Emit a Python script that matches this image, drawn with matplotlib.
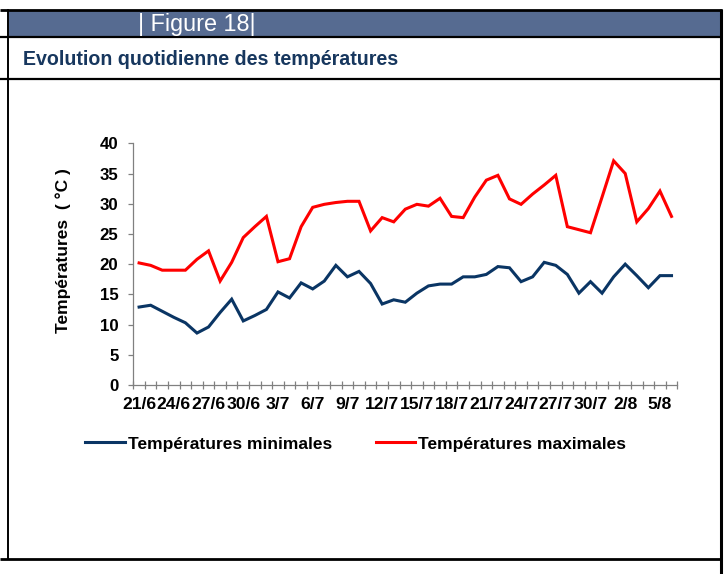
import matplotlib
matplotlib.use("Agg")
import matplotlib.pyplot as plt
from matplotlib.lines import Line2D
from matplotlib.patches import Rectangle
import numpy as np
import pandas as pd

plt.rcParams['font.family'] = ['Liberation Sans', 'DejaVu Sans']

# ---- data ----
dates = [f"{d.day}/{d.month}" for d in pd.date_range("2000-06-21", "2000-08-06")]
t_min = [12.9, 13.2, 12.2, 11.2, 10.3, 8.6, 9.6, 12.0, 14.2, 10.6, 11.5, 12.5,
         15.4, 14.4, 16.9, 15.9, 17.2, 19.8, 17.9, 18.8, 16.8, 13.4, 14.1, 13.7,
         15.2, 16.4, 16.7, 16.7, 17.9, 17.9, 18.3, 19.6, 19.4, 17.1, 17.9, 20.3,
         19.8, 18.3, 15.2, 17.1, 15.2, 17.9, 20.0, 18.1, 16.1, 18.1, 18.1]
t_max = [20.2, 19.8, 19.0, 19.0, 19.0, 20.8, 22.2, 17.2, 20.3, 24.4, 26.2, 27.9,
         20.4, 20.9, 26.2, 29.4, 29.9, 30.2, 30.4, 30.4, 25.5, 27.7, 27.0, 29.1,
         29.9, 29.6, 30.9, 27.9, 27.7, 31.1, 33.9, 34.7, 30.8, 29.9, 31.6, 33.1,
         34.7, 26.2, 25.7, 25.2, 31.1, 37.1, 35.0, 27.0, 29.2, 32.1, 27.9]
series_names = ["Températures minimales", "Températures maximales"]
y_ticks = [0, 5, 10, 15, 20, 25, 30, 35, 40]
label_step = 3

W, H = 724, 574
fig = plt.figure(figsize=(W / 100, H / 100), dpi=100)
fig.patch.set_facecolor('white')


def fx(x):
    return x / W


def fy(y):
    return 1 - y / H


# ---- table frame ----
fig.add_artist(Rectangle((fx(9), fy(36.5)), fx(711), 25.5 / H,
                         transform=fig.transFigure, facecolor='#566B91',
                         edgecolor='none', zorder=0))


def hline(y, x0, x1, lw):
    fig.add_artist(Line2D([fx(x0), fx(x1)], [fy(y), fy(y)], transform=fig.transFigure,
                          color='black', lw=lw, solid_capstyle='butt'))


def vline(x, y0, y1, lw):
    fig.add_artist(Line2D([fx(x), fx(x)], [fy(y0), fy(y1)], transform=fig.transFigure,
                          color='black', lw=lw, solid_capstyle='butt'))


hline(10, 0, 722, 2.0)
hline(37.3, 0, 722, 1.6)
hline(79.3, 0, 722, 1.6)
hline(559, 0, 722, 2.0)
vline(8, 9, 559, 1.4)
vline(720.5, 9, 574, 2.2)

fig.text(fx(138), fy(30.7), "| Figure 18|", color='white', fontsize=16.8,
         ha='left', va='baseline')
fig.text(fx(23), fy(65), "Evolution quotidienne des températures", color='#17375E',
         fontsize=14.1, fontweight='bold', ha='left', va='baseline')

# ---- chart ----
left, right, top, bottom = 133.3, 677.3, 143.3, 385.0
ax = fig.add_axes([fx(left), fy(bottom), fx(right - left), (bottom - top) / H])
x = np.arange(len(dates))
l1, = ax.plot(x, t_min, color='#0A3564', lw=2.2, label=series_names[0], solid_joinstyle='miter')
l2, = ax.plot(x, t_max, color='#FF0000', lw=2.2, label=series_names[1], solid_joinstyle='miter')

ax.set_xlim(-0.5, len(dates) - 0.5)
ax.set_ylim(0, 40)
ax.set_yticks(y_ticks)
ax.set_yticklabels([str(v) for v in y_ticks], fontsize=12.2, fontweight='bold')
major = x[::label_step]
ax.set_xticks(major)
ax.set_xticklabels([dates[i] for i in major], fontsize=12.6, fontweight='bold')
ax.set_xticks(np.arange(-0.5, len(dates), 1), minor=True)
ax.tick_params(axis='x', which='major', length=0, pad=8.5)
ax.tick_params(axis='x', which='minor', length=6, direction='inout', color='#808080', width=0.9)
ax.tick_params(axis='y', which='major', length=3.6, direction='out', color='#808080',
               width=0.9, pad=7)
for s in ['top', 'right']:
    ax.spines[s].set_visible(False)
for s in ['left', 'bottom']:
    ax.spines[s].set_color('#808080')
    ax.spines[s].set_linewidth(0.9)

fig.text(fx(63), fy(251), "Températures  ( °C )", rotation=90, fontsize=12.5,
         fontweight='bold', ha='center', va='center')

fig.legend(handles=[l1, l2], loc='center left', bbox_to_anchor=(fx(85), fy(444)),
           ncol=2, frameon=False, prop={'size': 12.5, 'weight': 'bold'},
           handlelength=2.3, handletextpad=0.17, columnspacing=2.5,
           borderpad=0, borderaxespad=0)

fig.savefig("out.png", dpi=100, facecolor='white')
